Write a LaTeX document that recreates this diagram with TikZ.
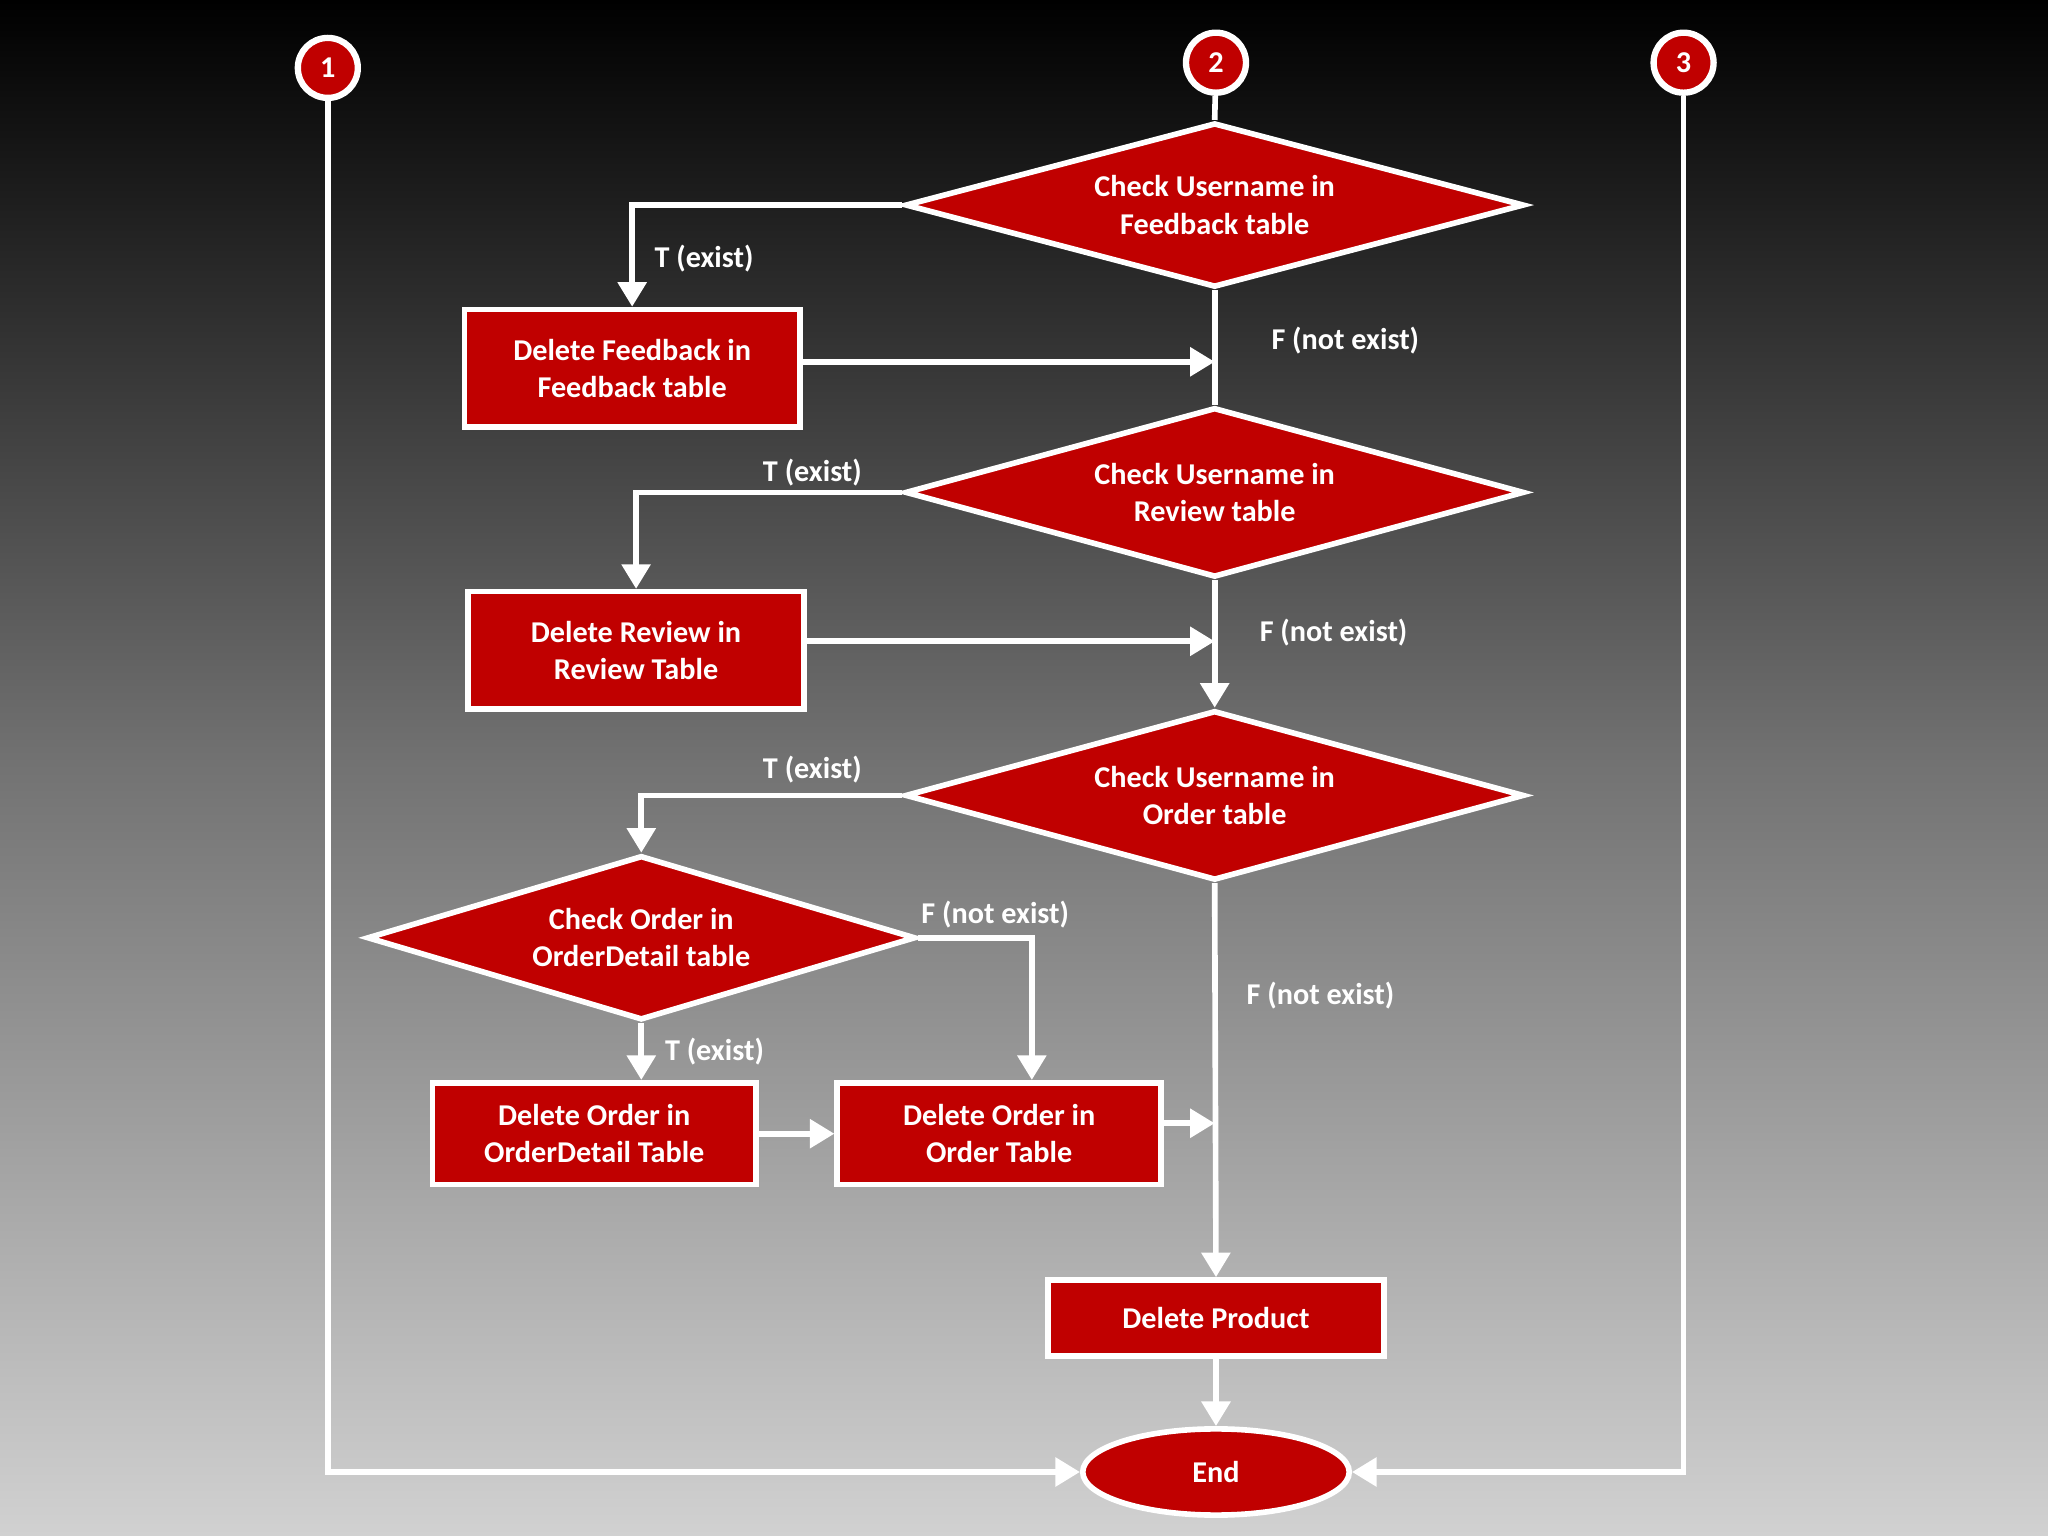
\documentclass[tikz,border=0pt]{standalone}
\usepackage{fontspec}
\setmainfont{Carlito}
\usetikzlibrary{shapes.geometric,arrows.meta}
\definecolor{rd}{HTML}{C00000}
\begin{document}
\begin{tikzpicture}[x=0.013061cm,y=-0.013061cm,
  font=\bfseries\fontsize{8.6}{10.6}\selectfont,
  box/.style={draw=white,line width=1.6pt,fill=rd,text=white,align=center,inner sep=0pt},
  dia/.style={box,diamond,aspect=3.75},
  circ/.style={box,circle,minimum size=0.6cm,line width=1.8pt},
  ln/.style={draw=white,line width=1.6pt},
  ar/.style={ln,-{Triangle[length=7pt,width=8pt]}},
  lab/.style={text=white,inner sep=1pt}]
\shade[top color=black,bottom color=black!18,middle color=black!55] (0,0) rectangle (1568,1176);
\useasboundingbox (0,0) rectangle (1568,1176);
\node[circ] (c1) at (251,52) {1};
\node[circ] (c2) at (931,48) {2};
\node[circ] (c3) at (1289,48) {3};
\node[box,minimum width=257*0.013061cm,minimum height=90*0.013061cm] (r1) at (484,282) {Delete Feedback in\\Feedback table};
\node[box,minimum width=257*0.013061cm,minimum height=90*0.013061cm] (r2) at (487,498) {Delete Review in\\Review Table};
\node[box,minimum width=248*0.013061cm,minimum height=78*0.013061cm] (r3) at (455,868) {Delete Order in\\OrderDetail Table};
\node[box,minimum width=248*0.013061cm,minimum height=78*0.013061cm] (r4) at (765,868) {Delete Order in\\Order Table};
\node[box,minimum width=257*0.013061cm,minimum height=58*0.013061cm] (r5) at (931,1009) {Delete Product};
\node[box,ellipse,minimum width=204*0.013061cm,minimum height=66*0.013061cm] (end) at (931,1127) {End};
\node[dia,minimum width=474*0.013061cm,minimum height=126*0.013061cm] (d1) at (930,157) {Check Username in\\Feedback table};
\node[dia,minimum width=474*0.013061cm,minimum height=130*0.013061cm] (d2) at (930,377) {Check Username in\\Review table};
\node[dia,minimum width=474*0.013061cm,minimum height=130*0.013061cm] (d3) at (930,609) {Check Username in\\Order table};
\node[dia,minimum width=420*0.013061cm,minimum height=126*0.013061cm,aspect=3.33] (d4) at (491,718) {Check Order in\\OrderDetail table};
\coordinate (m1) at (930,277);
\coordinate (m2) at (930,491);
\coordinate (m3) at (930,860);
\draw[ln] (c2) -- (d1.north);
\draw[ar] (d1.west) -| (r1.north);
\draw[ln] (d1.south) -- (d2.north);
\draw[ar] (r1.east|-m1) -- (m1);
\draw[ar] (d2.west) -| (r2.north);
\draw[ar] (d2.south) -- (d3.north);
\draw[ar] (r2.east|-m2) -- (m2);
\draw[ar] (d3.west) -| (d4.north);
\draw[ar] (d4.south) -- (d4.south|-r3.north);
\draw[ar] (d4.east) -| ([xshift=25*0.013061cm]r4.north);
\draw[ar] (r3.east) -- (r4.west);
\draw[ar] (r4.east|-m3) -- (m3);
\draw[ar] (d3.south) -- (r5.north);
\draw[ar] (r5.south) -- (end.north);
\draw[ar] (c1.south) |- (end.west);
\draw[ar] (c3.south) |- (end.east);
\node[lab] at (539,198) {T (exist)};
\node[lab] at (1030,261) {F (not exist)};
\node[lab] at (622,362) {T (exist)};
\node[lab] at (1021,484) {F (not exist)};
\node[lab] at (622,589) {T (exist)};
\node[lab] at (547,805) {T (exist)};
\node[lab] at (762,700) {F (not exist)};
\node[lab] at (1011,762) {F (not exist)};
\end{tikzpicture}
\end{document}
